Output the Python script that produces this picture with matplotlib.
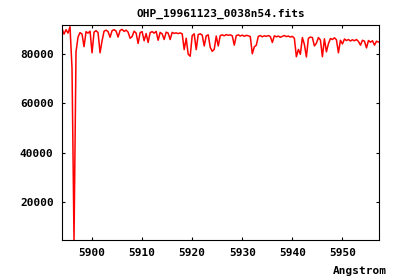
import numpy as np
import matplotlib
matplotlib.use("Agg")
import matplotlib.pyplot as plt

title = "OHP_19961123_0038n54.fits"
x_label = "Angstrom"
wave_start = 5894.0
wave_step = 0.4
flux = [
    90500, 88200, 90000, 88600, 91200, 74300, 4500, 81000, 87000, 88800,
    88200, 83100, 89200, 88600, 89400, 80600, 89000, 89600, 88800, 80600,
    85500, 89400, 89800, 89200, 86900, 89600, 90000, 89400, 87000, 89700,
    90100, 89300, 89800, 89000, 86500, 87200, 89400, 88600, 84400, 88800,
    89200, 85500, 88400, 84800, 88800, 89200, 88600, 89300, 85700, 88900,
    88300, 86000, 89000, 88600, 86000, 88900, 88500, 88700, 88400, 88700,
    88300, 81900, 86500, 80000, 79200, 87600, 88300, 81900, 88000, 88300,
    87800, 83400, 87500, 87900, 82800, 81200, 82000, 87400, 83400, 87600,
    87900, 87500, 88000, 87700, 87900, 87500, 83700, 87600, 87900, 87400,
    87800, 87300, 87700, 87500, 87200, 80200, 83000, 83700, 87300, 87600,
    87100, 87500, 87300, 87600, 87200, 84800, 87500, 87100, 87400, 86900,
    87300, 87600, 87200, 87400, 87000, 87300, 86500, 79000, 82000, 80000,
    86800, 84000, 78900, 86500, 87000, 86800, 83400, 84500, 86800, 85800,
    79000, 86300, 81000, 84300, 86400, 86000, 86700, 85900, 80600, 85700,
    84200, 86200, 85600, 86000, 85400, 85900, 85500, 86000, 85200, 83700,
    85700, 85300, 82600, 85600, 84900, 85500, 83700, 85300, 85000,
]
x_ticks = [5900, 5910, 5920, 5930, 5940, 5950]
y_ticks = [20000, 40000, 60000, 80000]
x_range = (5894.0, 5957.3)
y_range = (4500, 91900)

wave = wave_start + wave_step * np.arange(len(flux))

fig = plt.figure(figsize=(4.0, 2.8), dpi=100)
ax = fig.add_axes([62/400, 40/280, 317/400, 215/280])
ax.plot(wave, flux, color="#ff0000", lw=1.1)
ax.set_xlim(*x_range)
ax.set_ylim(*y_range)
ax.set_xticks(x_ticks)
ax.set_yticks(y_ticks)
font = dict(family="DejaVu Sans Mono", weight="bold", size=8)
ax.set_xticklabels([str(t) for t in x_ticks], **font)
ax.set_yticklabels([str(t) for t in y_ticks], **font)
ax.tick_params(direction="in", length=2.2, width=0.8, top=True, right=True, pad=6)
for s in ax.spines.values():
    s.set_linewidth(0.8)
fig.text(220.5/400, 1 - 14.3/280, title, ha="center", va="center", **font)
fig.text(387/400, 1 - 271/280, x_label, ha="right", va="center", **font)
fig.savefig("out.png", dpi=100)
